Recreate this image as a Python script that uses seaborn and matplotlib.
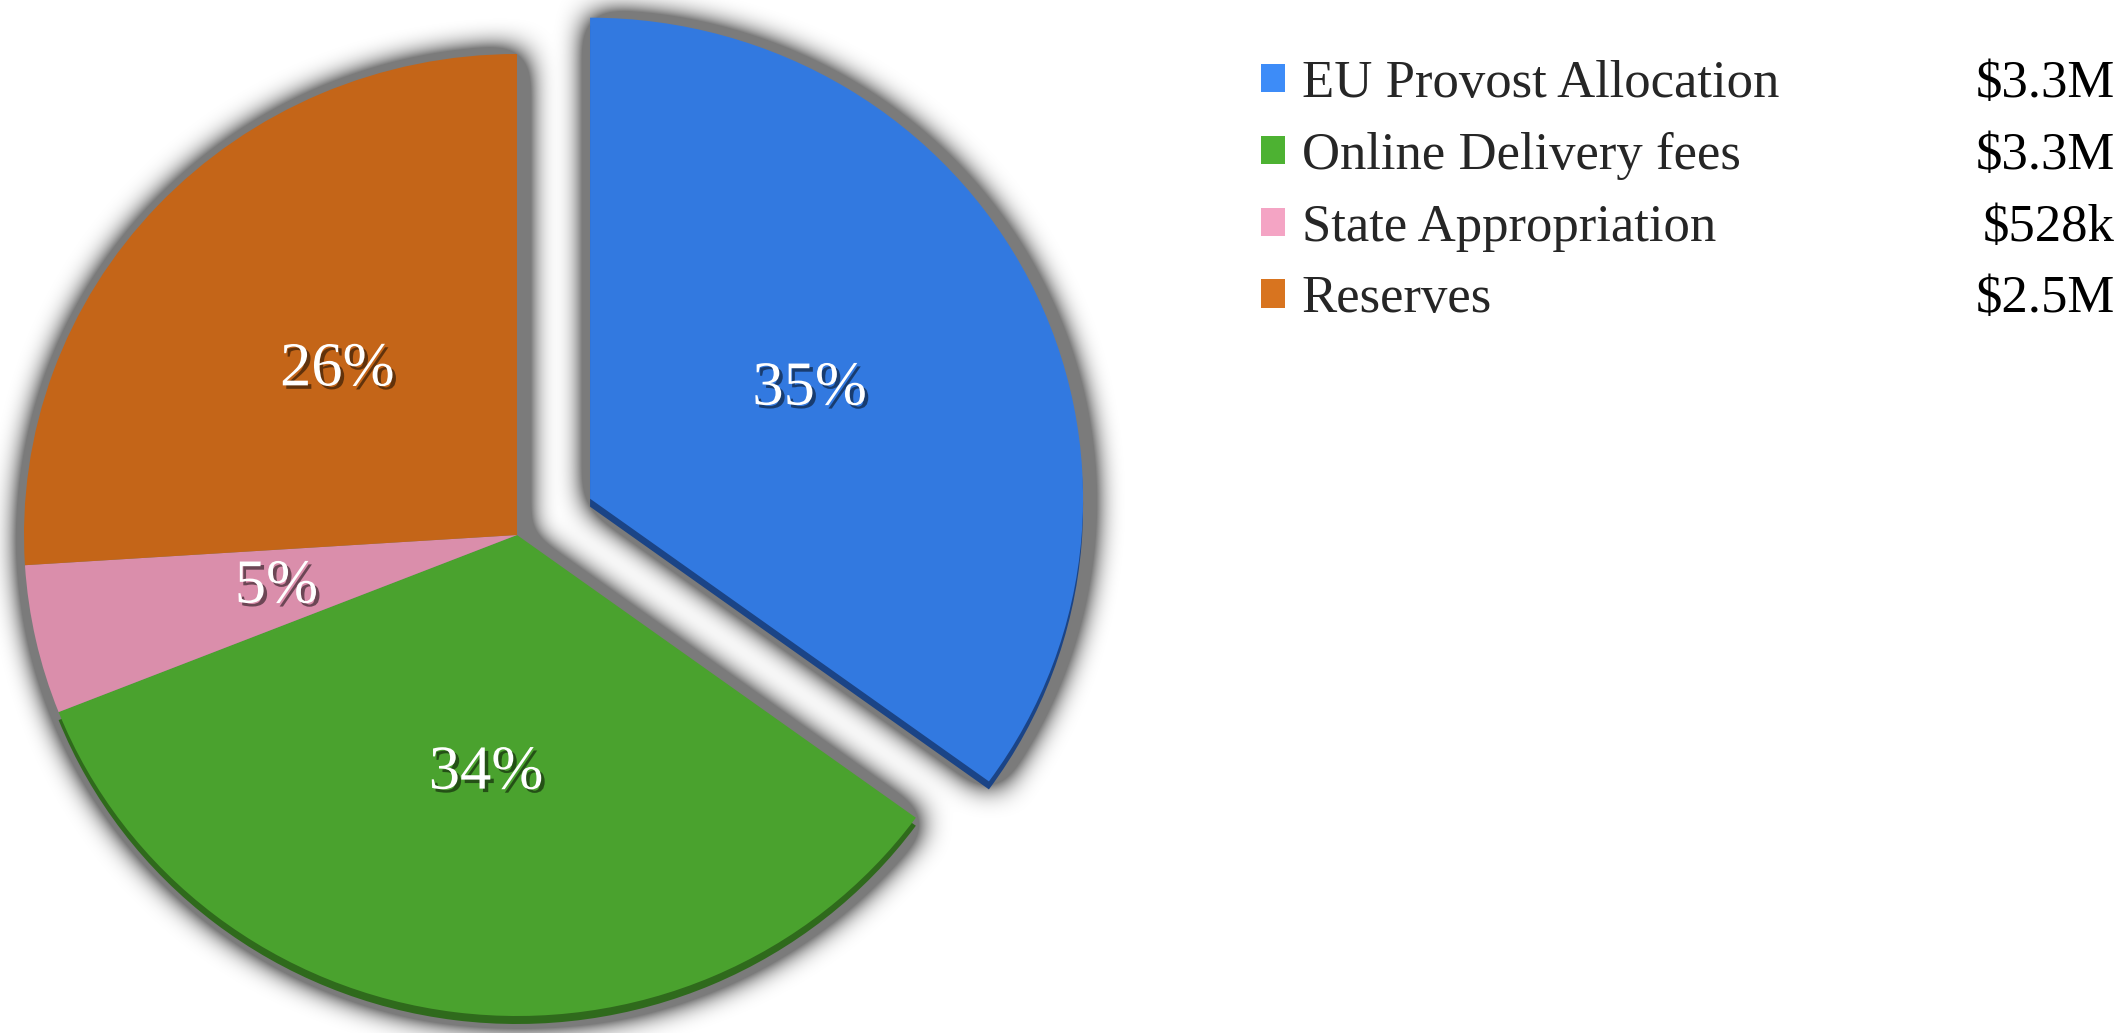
import matplotlib
matplotlib.use("Agg")
import matplotlib.pyplot as plt
import matplotlib.patheffects as pe
from matplotlib.patches import Patch
import numpy as np
import seaborn as sns

# --- data -------------------------------------------------------------
categories = ["EU Provost Allocation", "Online Delivery fees",
              "State Appropriation", "Reserves"]
amounts = ["$3.3M", "$3.3M", "$528k", "$2.5M"]
shares = [35, 34, 5, 26]

# --- style ------------------------------------------------------------
slice_colors = ["#3279e0", "#4aa22e", "#da8eab", "#c46518"]
side_colors = ["#1b4486", "#2f6a1c", "none", "none"]
legend_colors = ["#3d8cf8", "#4db232", "#f4a4c4", "#d8741f"]
explode_px = [82, 0, 0, 0]

W, H = 2126, 1033
RX, RY = 493, 481          # pie is a touch wider than tall (tilted)
S = RX / RY                # y data units per pixel
CX, CY_TOP = 517, 535      # pie centre in pixels, y from the top
CENTER = (CX, (H - CY_TOP) * S)
DEPTH = 8 * S

sns.set_theme(style="white")
plt.rcParams["font.family"] = ["Liberation Serif", "DejaVu Serif"]


def box_blur(a, w):
    k = w // 2
    for axis in (0, 1):
        a = np.moveaxis(a, axis, -1)
        p = np.pad(a, [(0, 0), (k + 1, k)])
        c = np.cumsum(p, axis=-1)
        a = (c[..., w:] - c[..., :-w]) / w
        a = np.moveaxis(a, -1, axis)
    return a


fig = plt.figure(figsize=(W / 100, H / 100), dpi=100)
ax = fig.add_axes([0, 0, 1, 1])

# side of the slightly tilted pie: darker copy nudged downwards
ax.pie(shares, explode=explode_px, colors=side_colors, startangle=90,
       counterclock=False, center=(CENTER[0], CENTER[1] - DEPTH),
       radius=RX, wedgeprops=dict(linewidth=0))

label_fx = [pe.withSimplePatchShadow(offset=(2.5, -2.5),
                                     shadow_rgbFace="black", alpha=0.5)]
wedges, _, autotexts = ax.pie(
    shares, explode=explode_px, colors=slice_colors, startangle=90,
    counterclock=False, center=CENTER, radius=RX,
    autopct="%.0f%%", pctdistance=0.5,
    wedgeprops=dict(linewidth=0),
    textprops=dict(color="white", fontsize=45, path_effects=label_fx),
)

# soft drop shadow under the whole pie
yy, xx = np.mgrid[0:H, 0:W]
pts = np.column_stack([xx.ravel() + 0.5 - 3,
                       (H - yy.ravel() - 0.5 + 3) * S])
mask = np.zeros(H * W, dtype=bool)
for w in wedges:
    mask |= w.get_path().contains_points(pts)
m = mask.reshape(H, W).astype(float)
for _ in range(3):
    m = box_blur(m, 31)
rgba = np.zeros((H, W, 4))
rgba[..., 3] = np.clip(m * 4.0, 0, 1) * 0.52
ax.imshow(rgba, extent=(0, W, 0, H * S), origin="upper", zorder=0,
          interpolation="nearest", aspect="auto")

ax.set_xlim(0, W)
ax.set_ylim(0, H * S)
ax.set_aspect("auto")
ax.axis("off")

handles = [Patch(facecolor=c, edgecolor="none") for c in legend_colors]
leg = ax.legend(handles, categories, loc="upper left",
                bbox_to_anchor=(1261 / W, (H - 60) / H),
                bbox_transform=fig.transFigure,
                frameon=False, fontsize=38, handlelength=0.45,
                handleheight=0.45, handletextpad=0.32, labelspacing=0.45,
                borderpad=0, borderaxespad=0)

fig.canvas.draw()
inv = fig.transFigure.inverted()
for t, amt in zip(leg.get_texts(), amounts):
    bb = t.get_window_extent()
    _, y0 = inv.transform((bb.x0, bb.y0))
    fig.text(2115 / W, y0, amt, ha="right", va="bottom", fontsize=38,
             color="black")

fig.savefig("out.png", dpi=100)
